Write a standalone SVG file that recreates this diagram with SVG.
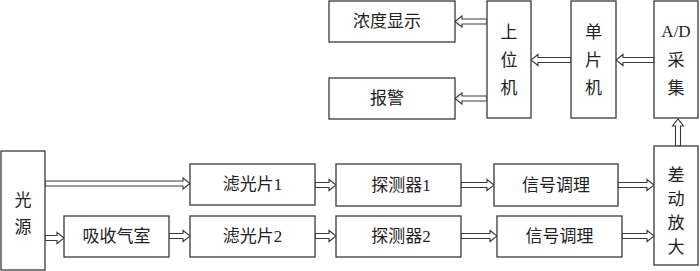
<svg xmlns="http://www.w3.org/2000/svg" width="700" height="271" viewBox="0 0 700 271">
<style>
.box{fill:#fff;stroke:#3a3a3a;stroke-width:1.3}
.arr{fill:#fff;stroke:#3a3a3a;stroke-width:1.1;stroke-linejoin:miter}
text{font-family:"Liberation Serif","Noto Sans CJK SC",serif;font-size:17px;fill:#222;text-anchor:middle;dominant-baseline:central}
</style>
<rect width="700" height="271" fill="#fff"/>
<g id="connectors">
<polygon class="arr" points="487,19 462,19 462,16 455,21.5 462,27 462,24 487,24"/>
<polygon class="arr" points="487,96 462,96 462,93 455,98.5 462,104 462,101 487,101"/>
<polygon class="arr" points="571,57.5 538,57.5 538,54.5 531,60 538,65.5 538,62.5 571,62.5"/>
<polygon class="arr" points="654,57.5 623,57.5 623,54.5 616,60 623,65.5 623,62.5 654,62.5"/>
<polygon class="arr" points="675.5,146 675.5,126 672.5,126 678,119 683.5,126 680.5,126 680.5,146"/>
<polygon class="arr" points="45,181 183,181 183,178 190,183.5 183,189 183,186 45,186"/>
<polygon class="arr" points="45,235.5 57,235.5 57,232.5 64,238 57,243.5 57,240.5 45,240.5"/>
<polygon class="arr" points="169,233.5 183,233.5 183,230.5 190,236 183,241.5 183,238.5 169,238.5"/>
<polygon class="arr" points="315,182.5 329,182.5 329,179.5 336,185 329,190.5 329,187.5 315,187.5"/>
<polygon class="arr" points="315,233.5 329,233.5 329,230.5 336,236 329,241.5 329,238.5 315,238.5"/>
<polygon class="arr" points="461,182.5 487,182.5 487,179.5 494,185 487,190.5 487,187.5 461,187.5"/>
<polygon class="arr" points="461,233.5 490,233.5 490,230.5 497,236 490,241.5 490,238.5 461,238.5"/>
<polygon class="arr" points="618,182.5 647,182.5 647,179.5 654,185 647,190.5 647,187.5 618,187.5"/>
<polygon class="arr" points="622,233.5 647,233.5 647,230.5 654,236 647,241.5 647,238.5 622,238.5"/>
</g>
<g id="n_display"><rect class="box" x="329" y="1" width="126" height="41"/><text x="387" y="21.5">浓度显示</text></g>
<g id="n_alarm"><rect class="box" x="329" y="78" width="126" height="41"/><text x="387" y="98.5">报警</text></g>
<g id="n_host"><rect class="box" x="487" y="1" width="44" height="117"/><text x="509" y="32">上</text><text x="509" y="60">位</text><text x="509" y="88">机</text></g>
<g id="n_mcu"><rect class="box" x="571" y="1" width="45" height="117"/><text x="593.5" y="32">单</text><text x="593.5" y="60">片</text><text x="593.5" y="88">机</text></g>
<g id="n_ad"><rect class="box" x="654" y="1" width="44" height="117"/><text x="676" y="31">A/D</text><text x="676" y="60">采</text><text x="676" y="88">集</text></g>
<g id="n_source"><rect class="box" x="1" y="151" width="44" height="119"/><text x="23" y="200">光</text><text x="23" y="227">源</text></g>
<g id="n_cell"><rect class="box" x="64" y="216" width="105" height="41"/><text x="116.5" y="236.5">吸收气室</text></g>
<g id="n_filter1"><rect class="box" x="190" y="164" width="125" height="41"/><text x="252.5" y="184.5">滤光片1</text></g>
<g id="n_filter2"><rect class="box" x="190" y="216" width="125" height="41"/><text x="252.5" y="236.5">滤光片2</text></g>
<g id="n_det1"><rect class="box" x="336" y="164" width="125" height="42"/><text x="401" y="185">探测器1</text></g>
<g id="n_det2"><rect class="box" x="336" y="216" width="125" height="41"/><text x="401" y="236.5">探测器2</text></g>
<g id="n_sig1"><rect class="box" x="494" y="164" width="124" height="42"/><text x="556" y="185">信号调理</text></g>
<g id="n_sig2"><rect class="box" x="497" y="216" width="125" height="41"/><text x="559.5" y="236.5">信号调理</text></g>
<g id="n_diff"><rect class="box" x="654" y="146" width="44" height="119"/><text x="676" y="175">差</text><text x="676" y="199">动</text><text x="676" y="223">放</text><text x="676" y="247">大</text></g>
</svg>
